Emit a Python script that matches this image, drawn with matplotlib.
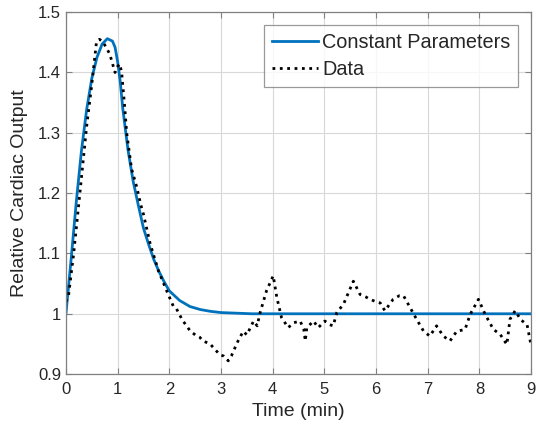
import matplotlib
matplotlib.use("Agg")
import matplotlib.pyplot as plt

plt.rcParams['font.family'] = ['Liberation Sans', 'DejaVu Sans']

# fitted curve (constant parameters)
model_t = [0, 0.05, 0.1, 0.2, 0.3, 0.4, 0.5, 0.6, 0.7, 0.8, 0.9, 0.95, 1.0, 1.05,
           1.1, 1.2, 1.3, 1.4, 1.5, 1.6, 1.7, 1.8, 1.9, 2.0, 2.2, 2.4, 2.6, 2.8,
           3.0, 3.3, 3.6, 4.0, 9.0]
model_y = [1.0, 1.045, 1.09, 1.185, 1.27, 1.338, 1.39, 1.425, 1.447, 1.456, 1.452,
           1.442, 1.418, 1.385, 1.34, 1.272, 1.22, 1.18, 1.142, 1.115, 1.09, 1.07,
           1.053, 1.038, 1.022, 1.012, 1.007, 1.004, 1.002, 1.001, 1.0, 1.0, 1.0]

# measured data
data_t = [0.0, 0.05, 0.15, 0.27, 0.4, 0.5, 0.59, 0.65, 0.72, 0.79, 0.85, 0.95, 1.0,
          1.045, 1.08, 1.13, 1.175, 1.27, 1.37, 1.45, 1.5, 1.63, 1.79, 1.95, 2.08,
          2.14, 2.25, 2.4, 2.5, 2.59, 2.65, 2.79, 2.85, 2.98, 3.05, 3.14, 3.2, 3.24,
          3.33, 3.43, 3.5, 3.63, 3.7, 3.75, 3.88, 4.01, 4.08, 4.17, 4.3, 4.4, 4.53,
          4.6, 4.63, 4.66, 4.79, 4.88, 5.01, 5.1, 5.17, 5.24, 5.37, 5.56, 5.69, 5.8,
          5.88, 6.0, 6.08, 6.17, 6.33, 6.45, 6.53, 6.66, 6.75, 6.79, 6.92, 7.04,
          7.17, 7.3, 7.43, 7.56, 7.72, 7.82, 7.98, 8.11, 8.27, 8.4, 8.53, 8.59,
          8.69, 8.8, 8.92, 9.0]
data_y = [1.02, 1.03, 1.10, 1.20, 1.31, 1.38, 1.45, 1.455, 1.45, 1.44, 1.43, 1.40,
          1.41, 1.414, 1.398, 1.35, 1.30, 1.24, 1.21, 1.18, 1.165, 1.116, 1.071,
          1.038, 1.012, 1.008, 0.99, 0.972, 0.965, 0.961, 0.955, 0.95, 0.944,
          0.932, 0.93, 0.922, 0.93, 0.938, 0.955, 0.971, 0.965, 0.988, 0.98, 1.0,
          1.038, 1.063, 1.027, 0.994, 0.977, 0.985, 0.988, 0.975, 0.955, 0.977,
          0.988, 0.977, 0.988, 0.982, 0.980, 1.002, 1.016, 1.054, 1.032, 1.028,
          1.024, 1.02, 1.018, 1.005, 1.024, 1.03, 1.030, 1.010, 0.996, 0.99, 0.971,
          0.963, 0.980, 0.963, 0.955, 0.971, 0.974, 0.999, 1.024, 0.999, 0.974,
          0.966, 0.949, 0.991, 1.005, 0.99, 0.982, 0.947]

x_ticks = [0, 1, 2, 3, 4, 5, 6, 7, 8, 9]
y_ticks = [0.9, 1.0, 1.1, 1.2, 1.3, 1.4, 1.5]
y_tick_labels = ['0.9', '1', '1.1', '1.2', '1.3', '1.4', '1.5']

fig = plt.figure(figsize=(5.36, 4.34), dpi=100)
ax = fig.add_axes([0.123, 0.138, 0.868, 0.834])

ax.plot(model_t, model_y, color='#0072BD', linewidth=2, label='Constant Parameters')
ax.plot(data_t, data_y, color='black', linestyle=':', linewidth=2, label='Data')

ax.set_xlim(0, 9)
ax.set_ylim(0.9, 1.5)
ax.set_xticks(x_ticks)
ax.set_yticks(y_ticks)
ax.set_yticklabels(y_tick_labels)
ax.grid(True, color='#d8d8d8', linewidth=0.8)
ax.set_axisbelow(True)
ax.tick_params(direction='in', top=True, right=True, length=4, width=0.8,
               colors='#262626', labelsize=12, color='#808080')
ax.tick_params(axis='x', pad=6)
for s in ax.spines.values():
    s.set_color('#808080')
    s.set_linewidth(0.9)

ax.set_xlabel('Time (min)', fontsize=14, color='#262626', labelpad=4)
ax.set_ylabel('Relative Cardiac Output', fontsize=14, color='#262626', labelpad=7)

leg = ax.legend(loc='upper right', fontsize=14.3, frameon=True, fancybox=False,
                edgecolor='#808080', handlelength=2.3, handletextpad=0.2,
                borderaxespad=0.65, labelspacing=0.4, borderpad=0.4)
leg.get_frame().set_linewidth(0.9)
for t in leg.get_texts():
    t.set_color('#262626')

fig.savefig('out.png', dpi=100)
